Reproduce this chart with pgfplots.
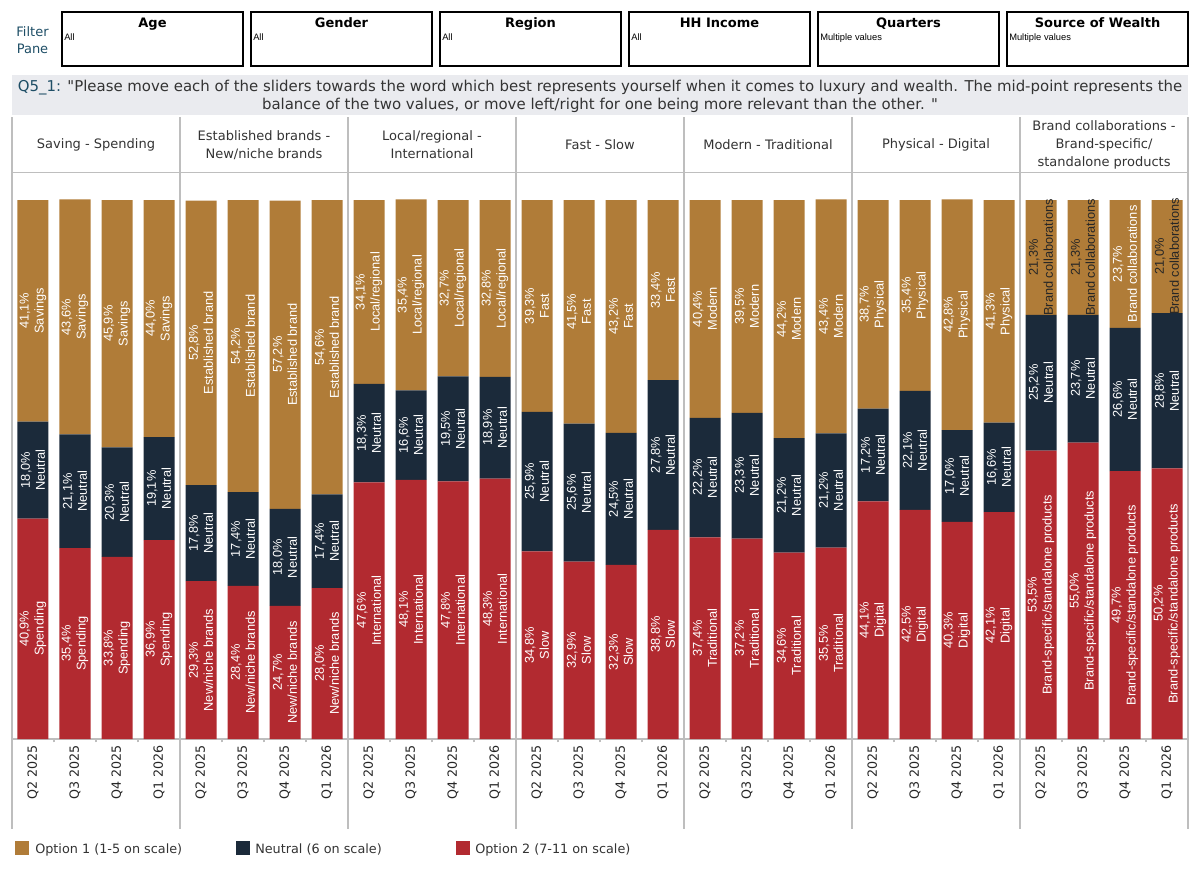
\documentclass[border=0pt]{standalone}
\usepackage{pgfplots}
\pgfplotsset{compat=1.18}
\usepackage{pgfplotstable}
\usepackage{fontspec}
\setmainfont{DejaVu Sans}
\newfontfamily\qf{DejaVu Sans}[Ligatures=TeXOff]
\newfontfamily\arialf{Liberation Sans}
\definecolor{gold}{RGB}{176,124,56}
\definecolor{navy}{RGB}{27,42,58}
\definecolor{crimson}{RGB}{178,42,48}
\definecolor{sepgray}{RGB}{190,190,190}
\definecolor{bandgray}{RGB}{234,235,239}
\definecolor{tealq}{RGB}{30,78,102}
\definecolor{txt}{RGB}{51,51,51}

% Option 2 (7-11 on scale) -- bottom segment
\pgfplotstableread{
x y word
0 40.9 Spending
1 35.4 Spending
2 33.8 Spending
3 36.9 Spending
4 29.3 {New/niche brands}
5 28.4 {New/niche brands}
6 24.7 {New/niche brands}
7 28.0 {New/niche brands}
8 47.6 International
9 48.1 International
10 47.8 International
11 48.3 International
12 34.8 Slow
13 32.9 Slow
14 32.3 Slow
15 38.8 Slow
16 37.4 Traditional
17 37.2 Traditional
18 34.6 Traditional
19 35.5 Traditional
20 44.1 Digital
21 42.5 Digital
22 40.3 Digital
23 42.1 Digital
24 53.5 {Brand-specific/standalone products}
25 55.0 {Brand-specific/standalone products}
26 49.7 {Brand-specific/standalone products}
27 50.2 {Brand-specific/standalone products}
}\optwo

% Neutral (6 on scale)
\pgfplotstableread{
x y word
0 18.0 Neutral
1 21.1 Neutral
2 20.3 Neutral
3 19.1 Neutral
4 17.8 Neutral
5 17.4 Neutral
6 18.0 Neutral
7 17.4 Neutral
8 18.3 Neutral
9 16.6 Neutral
10 19.5 Neutral
11 18.9 Neutral
12 25.9 Neutral
13 25.6 Neutral
14 24.5 Neutral
15 27.8 Neutral
16 22.2 Neutral
17 23.3 Neutral
18 21.2 Neutral
19 21.2 Neutral
20 17.2 Neutral
21 22.1 Neutral
22 17.0 Neutral
23 16.6 Neutral
24 25.2 Neutral
25 23.7 Neutral
26 26.6 Neutral
27 28.8 Neutral
}\neutral

% Option 1 (1-5 on scale) -- top segment; dark = 1 for dark label text
\pgfplotstableread{
x y word dark
0 41.1 Savings 0
1 43.6 Savings 0
2 45.9 Savings 0
3 44.0 Savings 0
4 52.8 {Established brand} 0
5 54.2 {Established brand} 0
6 57.2 {Established brand} 0
7 54.6 {Established brand} 0
8 34.1 Local/regional 0
9 35.4 Local/regional 0
10 32.7 Local/regional 0
11 32.8 Local/regional 0
12 39.3 Fast 0
13 41.5 Fast 0
14 43.2 Fast 0
15 33.4 Fast 0
16 40.4 Modern 0
17 39.5 Modern 0
18 44.2 Modern 0
19 43.4 Modern 0
20 38.7 Physical 0
21 35.4 Physical 0
22 42.8 Physical 0
23 41.3 Physical 0
24 21.3 {Brand collaborations} 1
25 21.3 {Brand collaborations} 1
26 23.7 {Brand collaborations} 0
27 21.0 {Brand collaborations} 1
}\optone

\begin{document}
\begin{tikzpicture}
\begin{scope}[x=0.75pt,y=-0.75pt]
\path[use as bounding box] (0,0) rectangle (1199,872);
% filter pane
\node[anchor=base, text=tealq, font=\fontsize{9.75}{12}\selectfont] at (32.5,36) {Filter};
\node[anchor=base, text=tealq, font=\fontsize{9.75}{12}\selectfont] at (32.5,53) {Pane};
\foreach \t/\s [count=\i from 0] in {Age/All, Gender/All, Region/All, HH Income/All, Quarters/Multiple values, Source of Wealth/Multiple values}{
  \draw[black, line width=0.8pt] (62+189*\i,12) rectangle ++(181,54);
  \node[anchor=base, font=\bfseries\fontsize{9.75}{12}\selectfont] at (152.5+189*\i,27) {\t};
  \node[anchor=base west, inner sep=0pt, font=\arialf\fontsize{7}{8}\selectfont] at (64+189*\i,40) {\s};
}
% question band
\fill[bandgray] (12,75) rectangle (1188,115);
\node[anchor=base, inner sep=0pt, text=txt, font=\fontsize{11.2}{13}\selectfont] at (600,91)
  {\textcolor{tealq}{Q5\_1:} {\qf"}Please move each of the sliders towards the word which best represents yourself when it comes to luxury and wealth. The mid-point represents the};
\node[anchor=base, inner sep=0pt, text=txt, font=\fontsize{11.2}{13}\selectfont] at (600,109)
  {balance of the two values, or move left/right for one being more relevant than the other. {\qf"}};
% panel separators
\foreach \i in {0,...,7}{\draw[sepgray, line width=0.8pt] (12+168*\i,117) -- (12+168*\i,829);}
\draw[sepgray, line width=0.8pt] (12,172.5) -- (1188,172.5);
% headers
\begin{scope}[every node/.style={align=center, text=txt, font=\fontsize{9.75}{13.5}\selectfont}]
\node at (96,145) {Saving - Spending};
\node at (264,145) {Established brands -\\New/niche brands};
\node at (432,145) {Local/regional -\\International};
\node at (600,145) {Fast - Slow};
\node at (768,145) {Modern - Traditional};
\node at (936,145) {Physical - Digital};
\node at (1104,145) {Brand collaborations -\\Brand-specific/\\standalone products};
\end{scope}
% legend
\fill[gold] (15,841) rectangle (29,855);
\node[anchor=base west, inner sep=0pt, text=txt, font=\fontsize{9.6}{12}\selectfont] at (35,853) {Option 1 (1-5 on scale)};
\fill[navy] (236,841) rectangle (250,855);
\node[anchor=base west, inner sep=0pt, text=txt, font=\fontsize{9.6}{12}\selectfont] at (255,853) {Neutral (6 on scale)};
\fill[crimson] (456,841) rectangle (470,855);
\node[anchor=base west, inner sep=0pt, text=txt, font=\fontsize{9.6}{12}\selectfont] at (475,853) {Option 2 (7-11 on scale)};
\end{scope}

\begin{axis}[
  at={(9pt,-554.25pt)}, anchor=south west,
  scale only axis, width=882pt, height=404.25pt,
  xmin=-0.5, xmax=27.5, ymin=0, ymax=100,
  enlargelimits=false, clip=false,
  ybar stacked, bar width=23.25pt,
  axis y line=none, axis x line=bottom,
  axis line style={sepgray, line width=0.8pt, -},
  xtick={0,...,27},
  xticklabels={Q2 2025,Q3 2025,Q4 2025,Q1 2026,Q2 2025,Q3 2025,Q4 2025,Q1 2026,Q2 2025,Q3 2025,Q4 2025,Q1 2026,Q2 2025,Q3 2025,Q4 2025,Q1 2026,Q2 2025,Q3 2025,Q4 2025,Q1 2026,Q2 2025,Q3 2025,Q4 2025,Q1 2026,Q2 2025,Q3 2025,Q4 2025,Q1 2026},
  major tick length=0pt,
  minor xtick={0.5,1.5,...,26.5},
  minor tick length=2.6pt,
  tick align=outside,
  tick style={sepgray, line width=0.8pt},
  xticklabel style={yshift=-4.5pt, rotate=90, anchor=east, inner sep=0pt, text=black!85, font=\fontsize{9.5}{11}\selectfont},
  point meta=explicit symbolic,
  visualization depends on={\thisrow{y}\as\rawv},
  nodes near coords={\pgfmathprintnumber[fixed,fixed zerofill,precision=1,use comma,assume math mode=true]{\rawv}\%\\\pgfplotspointmeta},
  nodes near coords style={rotate=90, anchor=center, align=center, inner sep=0pt, text=white, font=\arialf\fontsize{9.6}{11.25}\selectfont},
]
\addplot[fill=crimson, draw=none] table[x=x, y=y, meta=word] {\optwo};
\addplot[fill=navy, draw=none] table[x=x, y=y, meta=word] {\neutral};
\addplot[fill=gold, draw=none, visualization depends on={\thisrow{dark}\as\isdark},
  nodes near coords style={/utils/exec={\ifdim\isdark pt>0.5pt \def\labcol{black!85}\else\def\labcol{white}\fi}, text=\labcol}]
  table[x=x, y=y, meta=word] {\optone};
\end{axis}
\end{tikzpicture}
\end{document}
